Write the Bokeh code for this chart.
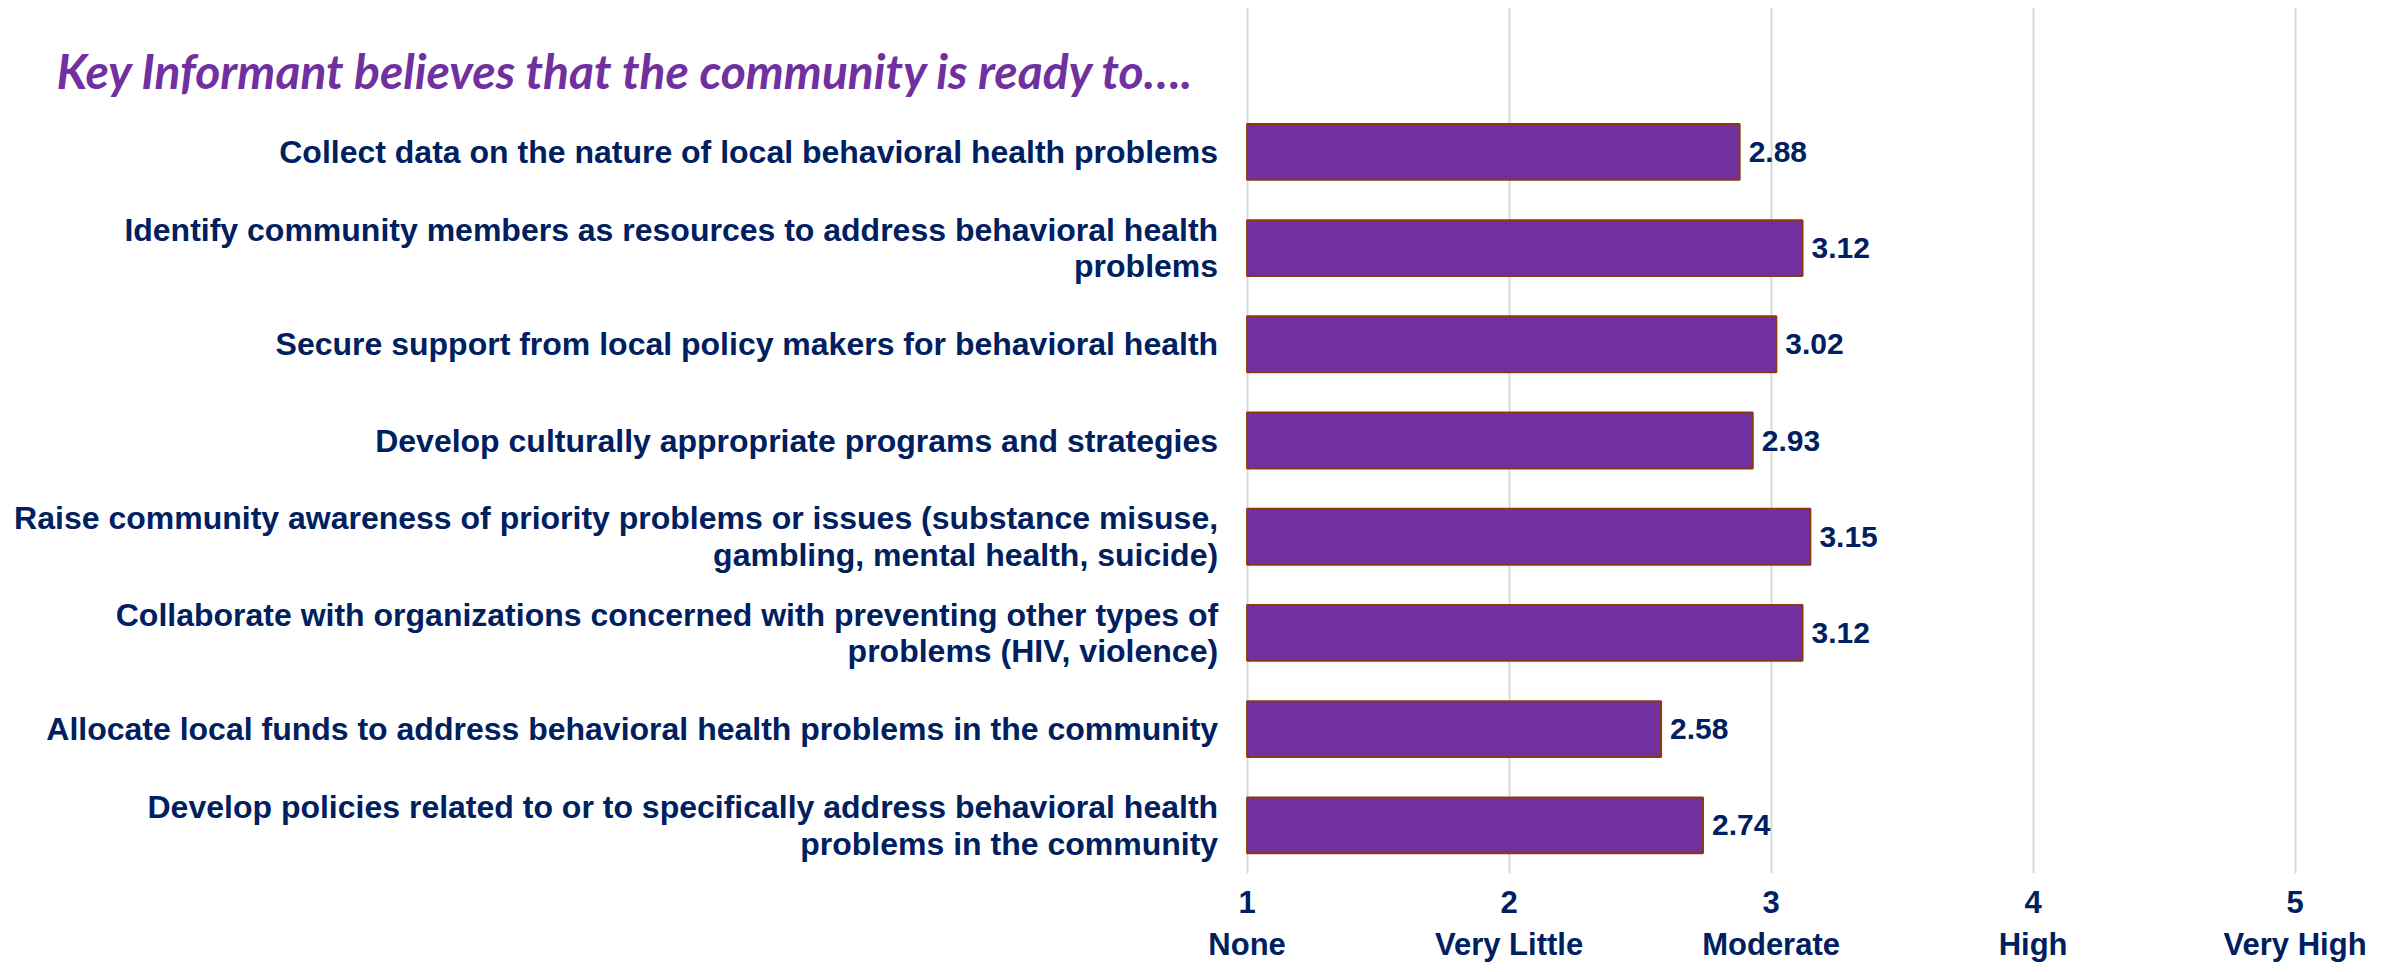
from bokeh.plotting import figure
from bokeh.models import ColumnDataSource, Range1d, FixedTicker, Label
from bokeh.core.properties import value
from bokeh.embed import file_html
from bokeh.resources import INLINE

categories = [
    "Collect data on the nature of local behavioral health problems",
    "Identify community members as resources to address behavioral health\nproblems",
    "Secure support from local policy makers for behavioral health",
    "Develop culturally appropriate programs and strategies",
    "Raise community awareness of priority problems or issues (substance misuse,\ngambling, mental health, suicide)",
    "Collaborate with organizations concerned with preventing other types of\nproblems (HIV, violence)",
    "Allocate local funds to address behavioral health problems in the community",
    "Develop policies related to or to specifically address behavioral health\nproblems in the community",
]
scores = [2.88, 3.12, 3.02, 2.93, 3.15, 3.12, 2.58, 2.74]
tick_values = [1, 2, 3, 4, 5]
tick_labels = ["1\nNone", "2\nVery Little", "3\nModerate", "4\nHigh", "5\nVery High"]
title_text = "Key Informant believes that the community is ready to…."

n = len(categories)
ypos = [n - 1 - i for i in range(n)]
src = ColumnDataSource(dict(
    cat=categories, score=scores, y=ypos,
    base=[1] * n,
    lbl=[f"{s:.2f}" for s in scores],
))

NAVY = "#002060"
PURPLE = "#7030A0"

p = figure(width=2380, height=964, output_backend="svg", toolbar_location=None,
           x_range=Range1d(-3.758, 5.326), y_range=Range1d(-0.5, 8.5),
           min_border_left=0, min_border_right=0, min_border_top=7, min_border_bottom=0)
p.outline_line_color = None
p.background_fill_color = "white"
p.border_fill_color = "white"

p.hbar(y="y", left="base", right="score", height=0.58, source=src,
       fill_color=PURPLE, line_color="#8B3A0F", line_width=2)

p.text(x="base", y="y", text="cat", source=src, x_offset=-29,
       text_align="right", text_baseline="middle",
       text_font=value("Liberation Sans"), text_font_style="bold",
       text_font_size="32px", text_color=NAVY, text_line_height=1.02)

p.text(x="score", y="y", text="lbl", source=src, x_offset=9,
       text_align="left", text_baseline="middle",
       text_font=value("Liberation Sans"), text_font_style="bold",
       text_font_size="30px", text_color=NAVY)

p.yaxis.visible = False
p.ygrid.grid_line_color = None

p.xaxis.ticker = FixedTicker(ticks=tick_values)
p.xaxis.major_label_overrides = {v: t for v, t in zip(tick_values, tick_labels)}
p.xaxis.axis_line_color = None
p.xaxis.major_tick_line_color = None
p.xaxis.minor_tick_line_color = None
p.xaxis.major_label_text_font = "Liberation Sans"
p.xaxis.major_label_text_font_style = "bold"
p.xaxis.major_label_text_font_size = "31px"
p.xaxis.major_label_text_line_height = 1.2
p.xaxis.major_label_text_color = NAVY
p.xaxis.major_label_standoff = 5

p.xgrid.ticker = FixedTicker(ticks=tick_values)
p.xgrid.grid_line_color = "#D9D9D9"
p.xgrid.grid_line_width = 2

title = Label(x=56, y=7.85, x_units="screen", y_units="data", text=title_text,
              text_font="Lato", text_font_style="bold italic", text_font_size="48px",
              text_color=PURPLE, text_baseline="middle")
p.add_layout(title)

open("out.html", "w").write(file_html(p, INLINE))
